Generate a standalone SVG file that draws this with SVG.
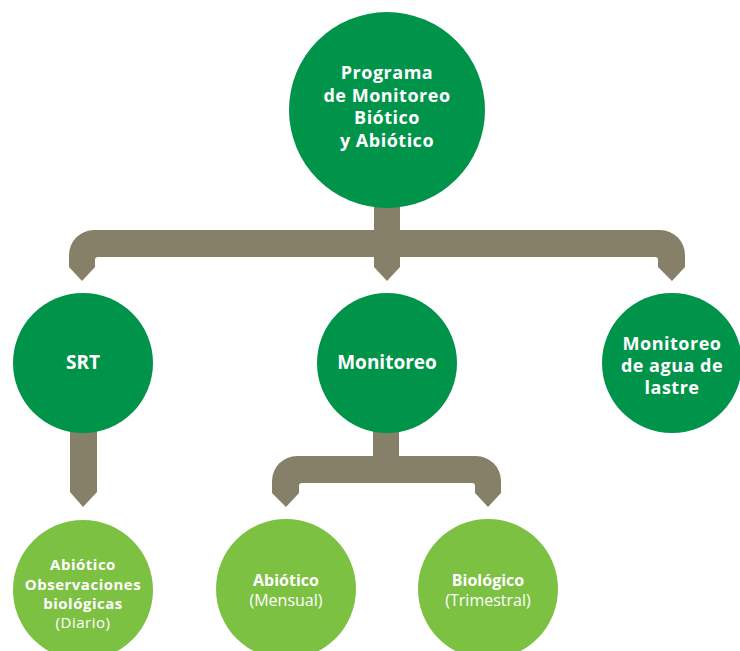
<svg xmlns="http://www.w3.org/2000/svg" width="740" height="651" viewBox="0 0 740 651">
<style>
.dk{fill:#00934a}
.lt{fill:#7dc143}
.con{fill:#878069}
text{font-family:"Open Sans","Noto Sans","Liberation Sans",sans-serif;fill:#fff;text-anchor:middle}
.b{font-weight:700;font-size:19px}
.m{font-weight:700;font-size:18px;letter-spacing:0.5px}
.s{font-weight:700;font-size:16px}
.r{font-weight:400;font-size:16px}
.s2{font-weight:700;font-size:15px;letter-spacing:0.5px}
.r2{font-weight:400;font-size:15px;letter-spacing:0.5px}
</style>
<rect width="740" height="651" fill="#fff"/>
<g id="connectors" class="con">
<path d="M374,200 H400 V230 H660 A25,25 0 0 1 685,255 V267 L672,281 L658,267 V260 Q658,257 655,257 H400 V267 L387,281 L374,267 V257 H98 Q95,257 95,260 V267 L82,281 L69,267 V255 A25,25 0 0 1 94,230 H374 Z"/>
<path d="M70,428 H97 V492 L83,507 L70,492 Z"/>
<path d="M373,428 H399 V456 H476 A25,25 0 0 1 501,481 V493 L488,507 L475,493 V486 Q475,483 472,483 H302 Q299,483 299,486 V493 L286,507 L272,493 V481 A25,25 0 0 1 297,456 H373 Z"/>
</g>
<g id="n-top"><circle class="dk" cx="387" cy="110" r="98"/>
<text class="m" x="387" y="79">Programa</text>
<text class="m" x="387" y="102">de Monitoreo</text>
<text class="m" x="387" y="124">Biótico</text>
<text class="m" x="387" y="147">y Abiótico</text></g>
<g id="n-srt"><circle class="dk" cx="83" cy="363" r="70"/>
<text class="b" x="83" y="369">SRT</text></g>
<g id="n-mon"><circle class="dk" cx="387" cy="363" r="70"/>
<text class="b" x="387" y="369">Monitoreo</text></g>
<g id="n-lastre"><circle class="dk" cx="672" cy="363" r="70"/>
<text class="m" x="672" y="350">Monitoreo</text>
<text class="m" x="672" y="372">de agua de</text>
<text class="m" x="672" y="394">lastre</text></g>
<g id="n-srt-sub"><circle class="lt" cx="83" cy="590" r="70"/>
<text class="s2" x="83" y="570">Abiótico</text>
<text class="s2" x="83" y="590">Observaciones</text>
<text class="s2" x="83" y="609">biológicas</text>
<text class="r2" x="83" y="628">(Diario)</text></g>
<g id="n-abio"><circle class="lt" cx="286" cy="589" r="70"/>
<text class="s" x="286" y="586">Abiótico</text>
<text class="r" x="286" y="606">(Mensual)</text></g>
<g id="n-bio"><circle class="lt" cx="488" cy="589" r="70"/>
<text class="s" x="488" y="586">Biológico</text>
<text class="r" x="488" y="606">(Trimestral)</text></g>
</svg>
